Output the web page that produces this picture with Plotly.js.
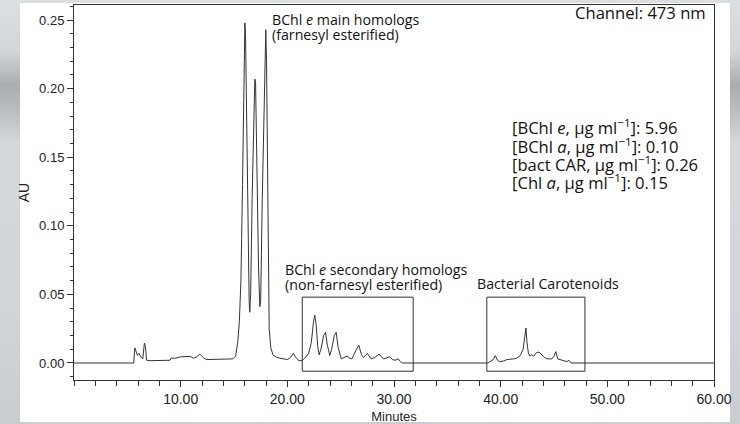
<!DOCTYPE html>
<html>
<head>
<meta charset="utf-8">
<script src="https://cdn.plot.ly/plotly-3.0.1.min.js"></script>
<style>
  html, body { margin: 0; padding: 0; width: 740px; height: 424px; overflow: hidden;
    background: linear-gradient(to bottom, #dcdfe2 0%, #d4d7da 12%, #a9adb0 20%, #b9bdc0 26%, #d6d9dc 34%, #d2d5d9 70%, #c9ccd1 100%); }
  #panel { position: absolute; left: 20px; top: 3px; width: 710px; height: 419px; background: #fff; }
  #chart { position: absolute; left: 0; top: 0; width: 740px; height: 424px; }
</style>
</head>
<body>
<div id="panel"></div>
<div id="chart"></div>
<script>
// Retention time (minutes)
const minutes = [
  0, 5.6, 5.7, 5.8, 5.95, 6.1, 6.3, 6.45, 6.6, 6.7, 6.8, 7.2, 8.0, 9.0, 9.1, 9.5, 10.0, 10.5, 10.9,
  11.2, 11.5, 11.8, 12.1, 12.4, 13.0, 13.5, 14.0, 14.5, 14.9, 15.15, 15.35, 15.5, 15.65, 15.8, 15.95,
  16.02, 16.08, 16.25, 16.42, 16.48, 16.56, 16.7, 16.85, 16.95, 17.02, 17.15, 17.3, 17.42, 17.5, 17.65,
  17.85, 17.98, 18.05, 18.2, 18.3, 18.45, 18.65, 19.0, 19.5, 20.0, 20.3, 20.55, 20.8, 21.1, 21.4, 21.7,
  22.0, 22.25, 22.45, 22.57, 22.7, 22.85, 22.98, 23.15, 23.4, 23.58, 23.75, 23.98, 24.15, 24.4, 24.58,
  24.75, 25.05, 25.35, 25.6, 25.85, 26.07, 26.35, 26.7, 26.95, 27.15, 27.5, 27.85, 28.2, 28.6, 29.0,
  29.3, 29.6, 29.85, 30.1, 30.4, 30.6, 30.8, 38.8, 39.0, 39.3, 39.5, 39.7, 39.9, 40.3, 40.6, 40.9,
  41.2, 41.5, 41.85, 42.1, 42.25, 42.37, 42.47, 42.6, 42.75, 42.9, 43.1, 43.35, 43.6, 43.85, 44.1,
  44.4, 44.8, 45.0, 45.17, 45.35, 45.7, 46.0, 46.2, 46.4, 46.6, 60
];
// Absorbance (AU) at 473 nm
const absorbance = [
  0, 0, 0.011, 0.008, 0.0055, 0.007, 0.004, 0.003, 0.0145, 0.012, 0.002, 0.0017, 0.0018, 0.002, 0.0035, 0.0035, 0.0045, 0.0045, 0.0048,
  0.0035, 0.0045, 0.0065, 0.004, 0.0025, 0.0025, 0.003, 0.0028, 0.0025, 0.003, 0.005, 0.015, 0.03, 0.06, 0.13, 0.23,
  0.248, 0.24, 0.13, 0.045, 0.037, 0.05, 0.12, 0.19, 0.207, 0.205, 0.14, 0.07, 0.041, 0.045, 0.12,
  0.21, 0.243, 0.22, 0.08, 0.025, 0.011, 0.006, 0.004, 0.003, 0.0025, 0.004, 0.007, 0.004, 0.0015, 0.002, 0.004,
  0.007, 0.015, 0.03, 0.035, 0.028, 0.012, 0.006, 0.01, 0.02, 0.0224, 0.013, 0.0055, 0.01, 0.02, 0.0224,
  0.012, 0.003, 0.004, 0.005, 0.0035, 0.003, 0.008, 0.013, 0.006, 0.004, 0.007, 0.003, 0.004, 0.0065, 0.003,
  0.0035, 0.0045, 0.0025, 0.002, 0.003, 0.001, 0, 0, 0.001, 0.0025, 0.0053, 0.002, 0.001, 0.0015, 0.0025, 0.0025,
  0.003, 0.0035, 0.0055, 0.01, 0.018, 0.0255, 0.015, 0.007, 0.005, 0.006, 0.005, 0.0075, 0.008, 0.006, 0.004,
  0.003, 0.003, 0.005, 0.0083, 0.003, 0.002, 0.0015, 0.001, 0.002, 0, 0
];
const xTickVals = [10, 20, 30, 40, 50, 60];
const xTickText = ["10.00", "20.00", "30.00", "40.00", "50.00", "60.00"];
const yTickVals = [0, 0.05, 0.10, 0.15, 0.20, 0.25];
const yTickText = ["0.00", "0.05", "0.10", "0.15", "0.20", "0.25"];
const concentrationLines = [
  "[BChl <i>e</i>, µg ml<sup>−1</sup>]: 5.96",
  "[BChl <i>a</i>, µg ml<sup>−1</sup>]: 0.10",
  "[bact CAR, µg ml<sup>−1</sup>]: 0.26",
  "[Chl <i>a</i>, µg ml<sup>−1</sup>]: 0.15"
];

const labelFont = { family: "Open Sans, Noto Sans, sans-serif", size: 14.2, color: "#111" };
const concFont = { family: "Open Sans, Noto Sans, sans-serif", size: 16.6, color: "#111" };
const axisFont = { family: "Liberation Sans, Arial, sans-serif", size: 13, color: "#222" };
const xTickFont = { family: "Liberation Sans, Arial, sans-serif", size: 14, color: "#222" };

const trace = {
  x: minutes, y: absorbance, type: "scatter", mode: "lines",
  line: { color: "#333", width: 1 }, hoverinfo: "skip"
};

const annotations = [
  { x: 18.42, y: 0.2505, text: "BChl <i>e</i> main homologs", xanchor: "left", yanchor: "middle", font: labelFont },
  { x: 18.42, y: 0.2395, text: "(farnesyl esterified)", xanchor: "left", yanchor: "middle", font: labelFont },
  { x: 19.64, y: 0.0680, text: "BChl <i>e</i> secondary homologs", xanchor: "left", yanchor: "middle", font: labelFont },
  { x: 19.64, y: 0.0569, text: "(non-farnesyl esterified)", xanchor: "left", yanchor: "middle", font: labelFont },
  { x: 37.6, y: 0.0583, text: "Bacterial Carotenoids", xanchor: "left", yanchor: "middle", font: labelFont },
  { x: 59.47, y: 0.2555, text: "Channel: 473 nm", xanchor: "right", yanchor: "middle", font: concFont }
];
const concY = [0.1720, 0.1582, 0.1450, 0.1319];
concentrationLines.forEach((t, i) => {
  annotations.push({ x: 40.85, y: concY[i], text: t, xanchor: "left", yanchor: "middle", font: concFont });
});
annotations.forEach(a => { a.xref = "x"; a.yref = "y"; a.showarrow = false; });

const layout = {
  width: 740, height: 424,
  margin: { l: 74, r: 26, t: 5, b: 44 },
  paper_bgcolor: "rgba(0,0,0,0)", plot_bgcolor: "#ffffff",
  showlegend: false,
  xaxis: {
    range: [0, 60], tickmode: "array", tickvals: xTickVals, ticktext: xTickText,
    ticks: "outside", ticklen: 6, tickwidth: 1, tickcolor: "#333",
    minor: { tick0: 0, dtick: 2, ticks: "outside", ticklen: 5, tickwidth: 1, tickcolor: "#333" },
    showline: true, mirror: true, linecolor: "#333", linewidth: 1,
    showgrid: false, zeroline: false, tickfont: xTickFont,
    title: { text: "Minutes", font: axisFont, standoff: 6 }
  },
  yaxis: {
    range: [-0.0124, 0.261], tickmode: "array", tickvals: yTickVals, ticktext: yTickText,
    ticks: "outside", ticklen: 6, tickwidth: 1, tickcolor: "#333",
    minor: { tick0: 0, dtick: 0.01, ticks: "outside", ticklen: 3, tickwidth: 1, tickcolor: "#333" },
    showline: true, mirror: true, linecolor: "#333", linewidth: 1,
    showgrid: false, zeroline: false, tickfont: axisFont,
    title: { text: "AU", font: { family: "Liberation Sans, Arial, sans-serif", size: 14, color: "#222" }, standoff: 6 }
  },
  shapes: [
    { type: "rect", xref: "x", yref: "y", x0: 21.4, x1: 31.8, y0: -0.006, y1: 0.048, line: { color: "#333", width: 1 } },
    { type: "rect", xref: "x", yref: "y", x0: 38.7, x1: 47.9, y0: -0.006, y1: 0.048, line: { color: "#333", width: 1 } }
  ],
  annotations: annotations
};

Plotly.newPlot("chart", [trace], layout, { staticPlot: true, displayModeBar: false });
</script>
</body>
</html>
